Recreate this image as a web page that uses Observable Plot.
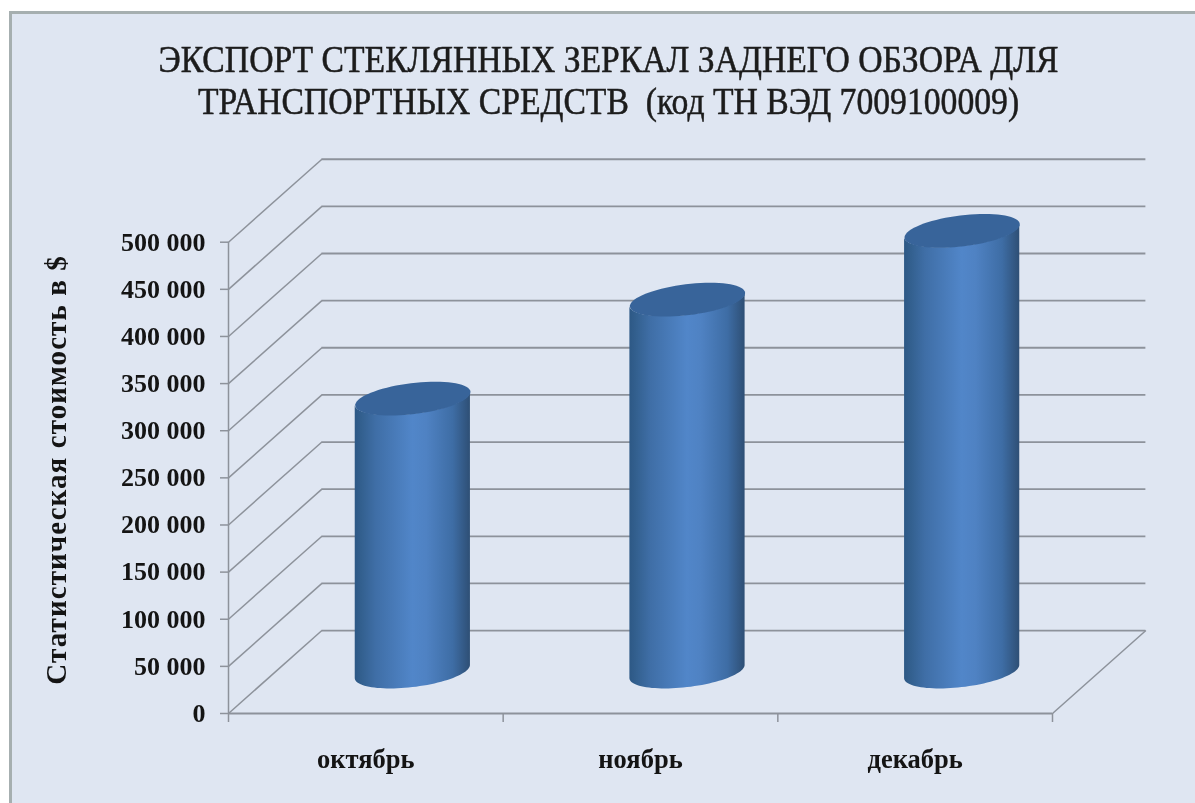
<!DOCTYPE html>
<html lang="ru">
<head>
<meta charset="utf-8">
<script src="https://cdn.jsdelivr.net/npm/d3@7"></script>
<script src="https://cdn.jsdelivr.net/npm/@observablehq/plot@0.6"></script>
<style>
  html, body { margin: 0; padding: 0; background: #fff; }
  #frame {
    position: absolute; left: 9px; top: 11px; width: 1186px; height: 792px;
    box-sizing: border-box; background: #dfe6f2;
    border-left: 3px solid #a6afb0; border-top: 3px solid #a6afb0;
    overflow: hidden;
  }
  #title {
    position: absolute; left: -1.5px; top: -14px; width: 1195px; height: 130px; margin: 0;
    padding-top: 39px; box-sizing: border-box; text-align: center;
    font: 400 37px/42px "Liberation Serif", serif; color: #1c1c1c; white-space: pre;
    transform: scaleX(0.91); -webkit-text-stroke: 0.5px #1c1c1c; filter: blur(0.5px);
  }
  #chart { position: absolute; left: -12px; top: 116px; filter: blur(0.5px); }
  #chart svg { overflow: visible; display: block; }
</style>
</head>
<body>
<div id="frame">
  <h1 id="title"></h1>
  <div id="chart"></div>
</div>
<script>
const titleLines = ["ЭКСПОРТ СТЕКЛЯННЫХ ЗЕРКАЛ ЗАДНЕГО ОБЗОРА ДЛЯ", "ТРАНСПОРТНЫХ СРЕДСТВ  (код ТН ВЭД 7009100009)"];
const yLabel = "Статистическая стоимость в $";
const months = ["октябрь", "ноябрь", "декабрь"];
const values = [290000, 395000, 468000];
const yTicks = [0, 50000, 100000, 150000, 200000, 250000, 300000, 350000, 400000, 450000, 500000];
const categoryEdges = [0, 1, 2, 3];

document.getElementById("title").textContent = titleLines.join("\n");

const rows = months.map((month, i) => ({month, value: values[i], centre: i + 0.5}));

const chartWidth = 1195, chartHeight = 673;
const margin = {left: 228, right: 143, top: 111.7, bottom: 90};
const xMax = 3, yMax = 500000;
const unitX = (chartWidth - margin.left - margin.right) / xMax;   // px per x unit
const unitY = (chartHeight - margin.top - margin.bottom) / yMax;  // px per y unit

// depth of the 3-D box, in data units of the two scales
const depthX = 0.34;
const depthY = 88000;
const gridStroke = "#8d929b";
const ink = "#141414";
const serif = "Liberation Serif";

// cylinder cross-section: a tilted ellipse
const capRx = 58, capRy = 15.5, capTilt = -7 * Math.PI / 180;
const cosT = Math.cos(capTilt), sinT = Math.sin(capTilt);
const ellipsePoint = phi => [
  capRx * Math.cos(phi) * cosT - capRy * Math.sin(phi) * sinT,
  capRx * Math.cos(phi) * sinT + capRy * Math.sin(phi) * cosT
];
const cap = {
  draw(ctx) {
    for (let a = 0; a < 72; ++a) {
      const [px, py] = ellipsePoint(a / 72 * 2 * Math.PI);
      if (a === 0) ctx.moveTo(px, py); else ctx.lineTo(px, py);
    }
    ctx.closePath();
  }
};
// front half of the ellipse, from its right-most point round to its left-most
const phiStart = Math.atan2(-capRy * sinT, capRx * cosT);
const frontArc = d3.range(0, 49).map(i => ellipsePoint(phiStart + i / 48 * Math.PI));
// body silhouette of each cylinder, in data units
const bodies = rows.flatMap(r => frontArc.map(([px, py]) => ({
  month: r.month,
  x: r.centre + px / unitX,
  y1: -py / unitY,
  y2: r.value - py / unitY
})));
const barDx = 47, barDy = -41.5;

const plot = Plot.plot({
  width: chartWidth,
  height: chartHeight,
  marginLeft: margin.left,
  marginRight: margin.right,
  marginTop: margin.top,
  marginBottom: margin.bottom,
  style: {background: "transparent", fontFamily: serif},
  x: {type: "linear", domain: [0, xMax], axis: null},
  y: {type: "linear", domain: [0, yMax], axis: null},
  marks: [
    // back wall lines
    Plot.ruleY(yTicks, {y: d => d + depthY, x1: depthX, x2: xMax + depthX, stroke: gridStroke, strokeWidth: 1.8}),
    // left wall diagonals
    Plot.link(yTicks, {x1: 0, x2: depthX, y1: d => d, y2: d => d + depthY, stroke: gridStroke, strokeWidth: 1.5}),
    // floor: front edge and right edge
    Plot.ruleY([0], {x1: 0, x2: xMax, stroke: gridStroke, strokeWidth: 2}),
    Plot.link([0], {x1: xMax, x2: xMax + depthX, y1: 0, y2: depthY, stroke: gridStroke, strokeWidth: 1.5}),
    Plot.ruleX([0], {y1: 0, y2: yMax, stroke: gridStroke, strokeWidth: 1.5}),
    // axes
    Plot.axisY({ticks: yTicks, tickSize: 8, tickPadding: 15, fontSize: 26, fontWeight: "bold", fill: ink, stroke: gridStroke,
      strokeWidth: 1.5, label: null, tickFormat: d => d3.format(",")(d).replace(/,/g, " ")}),
    Plot.axisX({ticks: categoryEdges, tickSize: 9, stroke: gridStroke, strokeWidth: 1.5, label: null, tickFormat: () => ""}),
    Plot.axisX({ticks: rows.map(d => d.centre), tickSize: 0, tickPadding: 36, fontSize: 26.5, fontWeight: "bold", fill: ink,
      label: null, tickFormat: d => months[Math.floor(d)]}),
    Plot.text([yLabel], {frameAnchor: "left", textAnchor: "middle", rotate: -90, dx: -172, dy: -8, fontSize: 29, fontWeight: "bold", fill: ink}),
    // cylinders
    Plot.areaY(bodies, {x: "x", y1: "y1", y2: "y2", z: "month", dx: barDx, dy: barDy, fill: "url(#cyl)", curve: "linear"}),
    Plot.dot(rows, {x: "centre", y: "value", r: 1, symbol: cap, dx: barDx, dy: barDy, fill: "#38649a", stroke: "none"})
  ]
});

const ns = "http://www.w3.org/2000/svg";
const defs = document.createElementNS(ns, "defs");
const grad = document.createElementNS(ns, "linearGradient");
grad.setAttribute("id", "cyl");
for (const [o, c] of [[0, "#2d5885"], [0.06, "#33608f"], [0.18, "#3f6ea6"], [0.5, "#5186c9"], [0.62, "#4f82c3"], [0.85, "#3e6da5"], [1, "#2e4f75"]]) {
  const stop = document.createElementNS(ns, "stop");
  stop.setAttribute("offset", o);
  stop.setAttribute("stop-color", c);
  grad.appendChild(stop);
}
defs.appendChild(grad);
plot.insertBefore(defs, plot.firstChild);
for (const t of plot.querySelectorAll("text")) {
  if (t.textContent === yLabel) t.style.letterSpacing = "1.1px";
}
document.getElementById("chart").appendChild(plot);
</script>
</body>
</html>
